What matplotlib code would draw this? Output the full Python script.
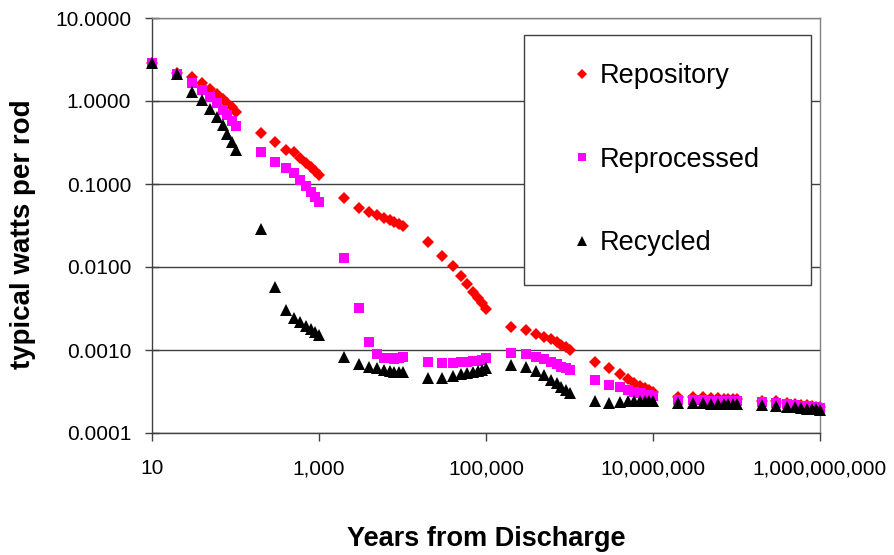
import matplotlib
matplotlib.use("Agg")
import matplotlib.pyplot as plt
from matplotlib.ticker import FixedLocator, FixedFormatter, NullLocator

plt.rcParams['font.family'] = ['Liberation Sans', 'DejaVu Sans']

years = [10, 20, 30, 40, 50, 60, 70, 80, 90,
         100, 200, 300, 400, 500, 600, 700, 800, 900,
         1000, 2000, 3000, 4000, 5000, 6000, 7000, 8000, 9000,
         10000, 20000, 30000, 40000, 50000, 60000, 70000, 80000, 90000,
         100000, 200000, 300000, 400000, 500000, 600000, 700000, 800000, 900000,
         1000000, 2000000, 3000000, 4000000, 5000000, 6000000, 7000000, 8000000, 9000000,
         10000000, 20000000, 30000000, 40000000, 50000000, 60000000, 70000000, 80000000, 90000000,
         100000000, 200000000, 300000000, 400000000, 500000000, 600000000, 700000000, 800000000, 900000000,
         1000000000]

repository = [2.9, 2.15, 1.95, 1.65, 1.39, 1.22, 1.06, 0.95, 0.84,
              0.74, 0.41, 0.32, 0.26, 0.245, 0.206, 0.18, 0.16, 0.144,
              0.128, 0.067, 0.052, 0.0456, 0.0423, 0.039, 0.037, 0.035, 0.033,
              0.0315, 0.0202, 0.0136, 0.0103, 0.0078, 0.0062, 0.0050, 0.0042, 0.00365,
              0.0031, 0.0019, 0.00174, 0.00158, 0.00145, 0.00134, 0.00124, 0.00116, 0.00108,
              0.00101, 0.00072, 0.0006, 0.00051, 0.00045, 0.0004, 0.00037, 0.000345, 0.00033,
              0.000315, 0.000272, 0.000268, 0.000268, 0.000265, 0.000262, 0.00026, 0.000258, 0.000256,
              0.000254, 0.000245, 0.00024, 0.000232, 0.000226, 0.00022, 0.000215, 0.000212, 0.000208,
              0.000205]

reprocessed = [2.9, 2.1, 1.63, 1.36, 1.13, 0.94, 0.78, 0.68, 0.57,
               0.50, 0.24, 0.186, 0.155, 0.135, 0.112, 0.095, 0.081, 0.069,
               0.060, 0.0127, 0.0032, 0.00126, 0.0009, 0.00081, 0.00079, 0.00078, 0.00079,
               0.00082, 0.00072, 0.0007, 0.0007, 0.00071, 0.00072, 0.00073, 0.00074, 0.00076,
               0.00079, 0.00091, 0.0009, 0.00083, 0.00077, 0.00071, 0.00067, 0.00063, 0.0006,
               0.00057, 0.00044, 0.00038, 0.000355, 0.00033, 0.00031, 0.0003, 0.00029, 0.000285,
               0.00028, 0.00025, 0.000248, 0.000247, 0.000246, 0.000245, 0.000244, 0.000243, 0.000242,
               0.00024, 0.000235, 0.00023, 0.000223, 0.000218, 0.000213, 0.000209, 0.000206, 0.000203,
               0.0002]

recycled = [2.9, 2.1, 1.29, 1.03, 0.80, 0.65, 0.51, 0.40, 0.32,
            0.26, 0.0284, 0.0057, 0.0030, 0.0024, 0.00217, 0.00195, 0.00179, 0.00165,
            0.00152, 0.00083, 0.00068, 0.00063, 0.0006, 0.00058, 0.000565, 0.00055, 0.00054,
            0.00055, 0.000456, 0.000465, 0.000486, 0.000507, 0.000528, 0.00054, 0.000556, 0.00057,
            0.0006, 0.00066, 0.00063, 0.00056, 0.0005, 0.00044, 0.0004, 0.00036, 0.00033,
            0.0003, 0.000245, 0.00023, 0.000235, 0.00024, 0.000245, 0.000245, 0.00024, 0.00024,
            0.00024, 0.00023, 0.000228, 0.000227, 0.000226, 0.000225, 0.000224, 0.000223, 0.000222,
            0.000221, 0.000217, 0.000212, 0.000207, 0.000203, 0.0002, 0.000197, 0.000195, 0.000193,
            0.00019]

x_ticks = [10, 1000, 100000, 10000000, 1000000000]
x_tick_labels = ["10", "1,000", "100,000", "10,000,000", "1,000,000,000"]
y_ticks = [0.0001, 0.001, 0.01, 0.1, 1, 10]
y_tick_labels = ["0.0001", "0.0010", "0.0100", "0.1000", "1.0000", "10.0000"]

W, H = 894, 555
fig = plt.figure(figsize=(W / 100, H / 100), dpi=100)
ax = fig.add_axes([152 / W, 1 - 433 / H, (820 - 152) / W, (433 - 18) / H])

ax.set_xscale('log')
ax.set_yscale('log')
ax.set_xlim(10, 1e9)
ax.set_ylim(1e-4, 10)

ax.plot(years, repository, linestyle='none', marker='D', markersize=6.5,
        color='#FF0000', markeredgewidth=0, label='Repository', clip_on=False, zorder=3)
ax.plot(years, reprocessed, linestyle='none', marker='s', markersize=7.2,
        color='#FF00FF', markeredgewidth=0, label='Reprocessed', clip_on=False, zorder=4)
ax.plot(years, recycled, linestyle='none', marker='^', markersize=8.4,
        color='#000000', markeredgewidth=0, label='Recycled', clip_on=False, zorder=5)

ax.xaxis.set_major_locator(FixedLocator(x_ticks))
ax.xaxis.set_major_formatter(FixedFormatter(x_tick_labels))
ax.xaxis.set_minor_locator(NullLocator())
ax.yaxis.set_major_locator(FixedLocator(y_ticks))
ax.yaxis.set_major_formatter(FixedFormatter(y_tick_labels))
ax.yaxis.set_minor_locator(NullLocator())

ax.yaxis.grid(True, color='#404040', linewidth=1.0)
ax.set_axisbelow(True)

ax.tick_params(axis='x', direction='out', length=6, width=1, color='#404040',
               labelsize=15, pad=13)
ax.tick_params(axis='y', direction='inout', length=10, width=1, color='#404040',
               labelsize=15, pad=10)

for side in ['left', 'bottom']:
    ax.spines[side].set_color('#404040')
    ax.spines[side].set_linewidth(1.0)
for side in ['right', 'top']:
    ax.spines[side].set_color('#808080')
    ax.spines[side].set_linewidth(1.0)

ax.set_xlabel('Years from Discharge', fontsize=19.5, fontweight='bold')
ax.set_ylabel('typical watts per rod', fontsize=20, fontweight='bold')
ax.xaxis.set_label_coords((486 - 152) / 668, (433 - 539) / 415)
ax.xaxis.label.set_va('center')
ax.yaxis.set_label_coords((23 - 152) / 668, (433 - 234) / 415)
ax.yaxis.label.set_va('center')

leg = fig.legend(loc='upper left',
                 bbox_to_anchor=(524 / W, 1 - 277 / H, 287 / W, 242 / H),
                 mode='expand', fontsize=19.5, frameon=True, fancybox=False,
                 edgecolor='#404040', framealpha=1, borderpad=1.05,
                 labelspacing=2.12, handlelength=2.2, handletextpad=-0.44,
                 markerscale=0.85, borderaxespad=0)
leg.get_frame().set_linewidth(1.0)

fig.savefig('out.png', dpi=100)
